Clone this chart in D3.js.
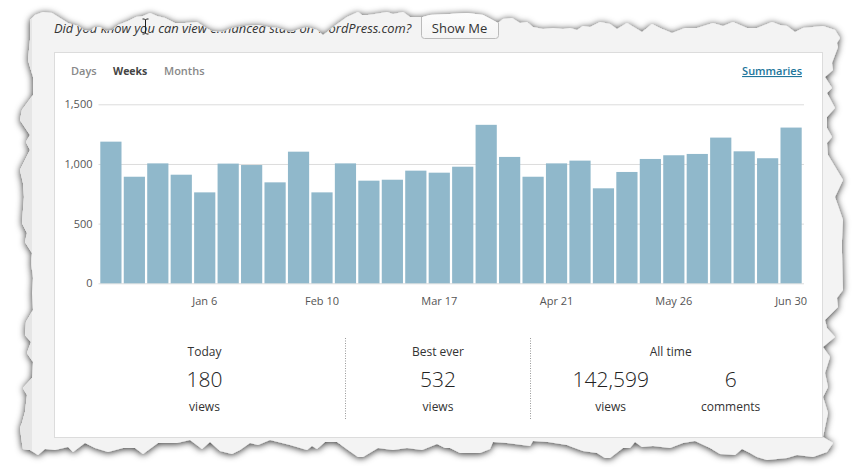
<!DOCTYPE html>
<html>
<head>
<meta charset="utf-8">
<script src="https://cdnjs.cloudflare.com/ajax/libs/d3/7.8.5/d3.min.js"></script>
<style>
  html, body { margin: 0; padding: 0; background: #fff; overflow: hidden; }
  svg text { font-family: "Open Sans", sans-serif; }
  .domain { display: none; }
</style>
</head>
<body>
<svg id="chart" width="858" height="474"></svg>
<script>
// weekly views
const weeks = ['Dec 9', 'Dec 16', 'Dec 23', 'Dec 30', 'Jan 6', 'Jan 13', 'Jan 20', 'Jan 27', 'Feb 3', 'Feb 10',
  'Feb 17', 'Feb 24', 'Mar 3', 'Mar 10', 'Mar 17', 'Mar 24', 'Mar 31', 'Apr 7', 'Apr 14', 'Apr 21',
  'Apr 28', 'May 5', 'May 12', 'May 19', 'May 26', 'Jun 2', 'Jun 9', 'Jun 16', 'Jun 23', 'Jun 30'];
const views = [1187, 893, 1005, 910, 762, 1003, 991, 846, 1103, 762,
  1005, 860, 868, 944, 927, 977, 1328, 1059, 893, 1005,
  1028, 796, 933, 1042, 1073, 1084, 1221, 1106, 1048, 1305];
const xTickLabels = ['Jan 6', 'Feb 10', 'Mar 17', 'Apr 21', 'May 26', 'Jun 30'];
const yTicks = [0, 500, 1000, 1500];
const tabs = ['Days', 'Weeks', 'Months'];

// torn paper edge of the screenshot, traced clockwise from the top left
const tornEdge = [[30,30],[30,20],[35,15],[43,12],[52,13],[60,18],[68,23],[78,26],[84,30],[90,31],[95,27],[100,27],
  [106,31],[112,30],[118,25],[128,21],[136,17],[143,16],[150,13],[157,16],[165,18],[175,23],[185,23],[197,22],
  [206,28],[212,31],[222,32],[232,28],[245,26],[258,25],[268,27],[278,28],[290,32],[297,30],[307,27],[317,30],
  [323,35],[327,32],[333,27],[347,17],[358,12],[362,15],[368,15],[375,14],[387,12],[393,14],[403,12],[410,17],
  [423,17],[430,15],[450,14],[467,13],[483,15],[498,23],[503,19],[512,18],[520,23],[527,22],[533,27],[543,29],
  [553,28],[563,29],[570,28],[577,30],[583,26],[590,27],[600,22],[610,24],[617,29],[627,23],[642,32],[652,24],
  [660,28],[672,33],[685,28],[697,28],[713,23],[723,26],[733,22],[747,28],[757,28],[772,22],[780,25],[787,26],
  [795,32],[803,28],[823,26],[835,30],[840,38],[837,43],[838,47],[832,63],[833,70],[825,77],[832,88],[827,93],
  [835,108],[827,117],[827,128],[832,137],[827,143],[828,155],[843,180],[835,197],[843,220],[842,240],[842,253],
  [843,290],[837,298],[838,307],[825,320],[827,328],[835,337],[823,347],[830,357],[825,373],[828,387],[823,397],
  [828,413],[823,437],[833,443],[827,452],[813,457],[797,455],[787,458],[767,460],[757,457],[750,453],[742,449],
  [735,455],[720,454],[710,448],[695,441],[683,443],[670,448],[653,446],[642,447],[635,442],[630,448],[623,448],
  [610,458],[605,458],[597,453],[583,451],[572,447],[567,445],[548,442],[533,441],[530,446],[507,443],[493,442],
  [490,449],[480,453],[460,453],[450,448],[445,448],[437,444],[422,450],[407,448],[393,450],[378,448],[363,457],
  [358,457],[348,450],[337,442],[325,442],[317,449],[312,446],[307,450],[290,445],[270,440],[258,445],[250,443],
  [240,450],[232,454],[220,451],[210,442],[202,449],[190,440],[177,443],[158,443],[143,454],[135,448],[123,448],
  [108,452],[95,448],[85,443],[73,452],[68,447],[55,450],[45,449],[38,455],[30,450],[23,449],[22,443],[20,428],
  [22,423],[25,412],[27,395],[23,388],[32,378],[33,362],[27,353],[31,342],[25,335],[26,322],[33,310],[32,293],
  [33,278],[31,262],[32,253],[25,242],[27,233],[22,223],[24,197],[23,183],[20,170],[30,150],[26,142],[30,135],
  [20,120],[22,110],[33,95],[33,77],[28,60],[30,40]];

const svg = d3.select('#chart');
const defs = svg.append('defs');
const edgePath = d3.line().curve(d3.curveLinearClosed)(tornEdge);

defs.append('clipPath').attr('id', 'torn').append('path').attr('d', edgePath);

const shadow = defs.append('filter').attr('id', 'shadow')
  .attr('x', '-5%').attr('y', '-8%').attr('width', '110%').attr('height', '116%');
shadow.append('feDropShadow')
  .attr('dx', 0).attr('dy', 1).attr('stdDeviation', 3.5)
  .attr('flood-color', '#000').attr('flood-opacity', 0.85);

const btnGrad = defs.append('linearGradient').attr('id', 'btn')
  .attr('x1', 0).attr('y1', 0).attr('x2', 0).attr('y2', 1);
btnGrad.append('stop').attr('offset', '0%').attr('stop-color', '#fefefe');
btnGrad.append('stop').attr('offset', '100%').attr('stop-color', '#f4f4f4');

svg.append('path').attr('d', edgePath).attr('fill', '#f3f3f3').attr('filter', 'url(#shadow)');

const page = svg.append('g').attr('clip-path', 'url(#torn)');
page.append('rect').attr('x', 0).attr('y', 0).attr('width', 32).attr('height', 474).attr('fill', '#e6e6e6');

// notice above the card
page.append('text').attr('x', 54).attr('y', 33)
  .attr('font-size', 12.9).attr('font-style', 'italic').attr('fill', '#333')
  .text('Did you know you can view enhanced stats on WordPress.com?');
page.append('rect').attr('x', 421.5).attr('y', 8).attr('width', 77).attr('height', 30.5).attr('rx', 3)
  .attr('fill', 'url(#btn)').attr('stroke', '#bbb');
page.append('text').attr('x', 459.5).attr('y', 33).attr('text-anchor', 'middle')
  .attr('font-size', 13).attr('fill', '#333').text('Show Me');

// card
page.append('rect').attr('x', 54.5).attr('y', 52.5).attr('width', 768).attr('height', 385)
  .attr('fill', '#fff').attr('stroke', '#dcdcdc');

// tabs
const tabX = [71, 113, 164];
page.selectAll('.tab').data(tabs).enter().append('text')
  .attr('class', 'tab')
  .attr('x', (d, i) => tabX[i]).attr('y', 75)
  .attr('font-size', d => d === 'Weeks' ? 10.5 : 11)
  .attr('font-weight', d => d === 'Weeks' ? 700 : 600)
  .attr('fill', d => d === 'Weeks' ? '#444' : '#888')
  .text(d => d);
page.append('text').attr('x', 802).attr('y', 75).attr('text-anchor', 'end')
  .attr('font-size', 11).attr('font-weight', 600).attr('fill', '#21759b')
  .attr('text-decoration', 'underline').text('Summaries');

// scales
const x = d3.scaleBand().domain(weeks).range([100.3, 801.7]).paddingInner(0.096).paddingOuter(0);
const y = d3.scaleLinear().domain([0, 1500]).range([283.3, 104.3]);

const yAxis = d3.axisLeft(y).tickValues(yTicks).tickFormat(d3.format(',')).tickSize(-705.5).tickPadding(6);
const gy = page.append('g').attr('transform', 'translate(98.5,0)').call(yAxis);
gy.selectAll('line').attr('stroke', '#dcdcdc');
gy.selectAll('text').attr('font-size', 11).attr('fill', '#555').style('font-family', '"Open Sans", sans-serif');

page.selectAll('.bar').data(views).enter().append('rect')
  .attr('class', 'bar')
  .attr('x', (d, i) => x(weeks[i]))
  .attr('y', d => y(d))
  .attr('width', x.bandwidth())
  .attr('height', d => y(0) - y(d))
  .attr('fill', '#90b8cb');

const xAxis = d3.axisBottom(x).tickValues(xTickLabels).tickSize(0).tickPadding(14);
const gx = page.append('g').attr('transform', 'translate(0,283.3)').call(xAxis);
gx.selectAll('text').attr('font-size', 11).attr('fill', '#555').style('font-family', '"Open Sans", sans-serif');

// stats row
const statTitles = [['Today', 204.5], ['Best ever', 438], ['All time', 670.7]];
const statValues = [['180', 'views', 204.5], ['532', 'views', 438], ['142,599', 'views', 610.7], ['6', 'comments', 730.7]];
const separators = [345.5, 530.5];

page.selectAll('.sep').data(separators).enter().append('line')
  .attr('class', 'sep')
  .attr('x1', d => d).attr('x2', d => d).attr('y1', 338).attr('y2', 419)
  .attr('stroke', '#999').attr('stroke-dasharray', '1,1.5');
page.selectAll('.title').data(statTitles).enter().append('text')
  .attr('class', 'title')
  .attr('x', d => d[1]).attr('y', 355.5).attr('text-anchor', 'middle')
  .attr('font-size', 12).attr('fill', '#333').text(d => d[0]);
page.selectAll('.num').data(statValues).enter().append('text')
  .attr('class', 'num')
  .attr('x', d => d[2]).attr('y', 387).attr('text-anchor', 'middle')
  .attr('font-size', 21).attr('font-weight', 300).attr('fill', '#222').text(d => d[0]);
page.selectAll('.unit').data(statValues).enter().append('text')
  .attr('class', 'unit')
  .attr('x', d => d[2]).attr('y', 411).attr('text-anchor', 'middle')
  .attr('font-size', 12).attr('fill', '#333').text(d => d[1]);

// i-beam mouse cursor left in the screenshot
const cursor = svg.append('g').attr('stroke', '#222').attr('stroke-width', 1).attr('fill', 'none');
cursor.append('path').attr('d', 'M142.5,19h2l1,1l1,-1h2M145.5,20v13M142.5,34h2l1,-1l1,1h2');
</script>
</body>
</html>
